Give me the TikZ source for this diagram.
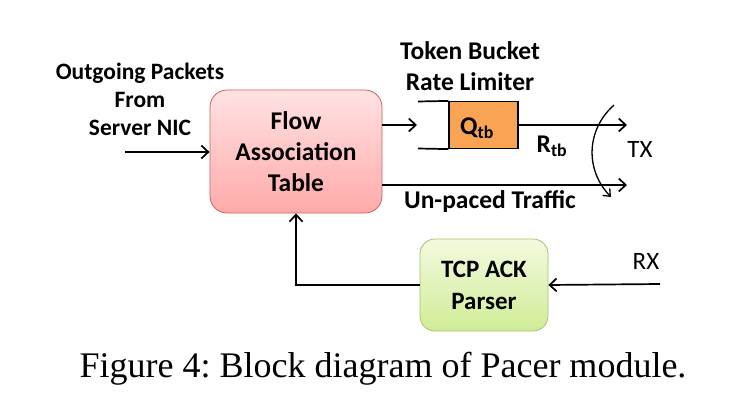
\documentclass[tikz,border=0pt]{standalone}
\usepackage{fontspec}
\setmainfont{Carlito}
\newfontfamily\capfont{Liberation Serif}
\usetikzlibrary{arrows.meta}
\frenchspacing

\definecolor{fatline}{HTML}{CD5F5C}
\definecolor{fattop}{HTML}{FFE2E2}
\definecolor{fatbot}{HTML}{FFAAAA}
\definecolor{tcpline}{HTML}{A3C467}
\definecolor{tcptop}{HTML}{F3FADF}
\definecolor{tcpbot}{HTML}{D0EC96}
\definecolor{qorange}{HTML}{F9A355}

\tikzset{
  lbl/.style={font=\fontsize{25.5}{31}\selectfont\bfseries, align=center, inner sep=0pt},
  lnk/.style={line width=1.7pt, -{Straight Barb[length=7pt,width=13pt,line width=1.7pt]}},
}

\begin{document}
\begin{tikzpicture}[x=1pt, y=-1pt]
    \useasboundingbox (0,0) rectangle (739,415);

    % blocks
    \node [lbl, draw=fatline, line width=0.8pt, rounded corners=17pt, top color=fattop, bottom color=fatbot,
           minimum width=172pt, minimum height=123pt] (fat) at (296,151.5) {Flow\\Association\\Table};
    \node [lbl, font=\fontsize{25}{32}\selectfont\bfseries, draw=tcpline, line width=0.8pt, rounded corners=15pt,
           top color=tcptop, bottom color=tcpbot, minimum width=128pt, minimum height=92pt] (tcp) at (484,285) {TCP ACK\\Parser};
    \node [lbl, draw, line width=1.2pt, fill=qorange, minimum width=69pt, minimum height=47pt] (qtb) at (483.5,125) {};
    \node [lbl] (qlbl) at (477,128) {Q\textsubscript{tb}};
    \draw [line width=1.7pt] (418,101.5) -- (qtb.north west);
    \draw [line width=1.7pt] (418,148.5) -- (qtb.south west);

    % free ends
    \coordinate (in) at (125,152);
    \coordinate (qin) at (417,125);
    \coordinate (txa) at (627,125);
    \coordinate (txb) at (627,185);
    \coordinate (rx) at (660,284);

    % connectors
    \draw [lnk] (in) -- (fat.west |- in);
    \draw [lnk] (fat.east |- qin) -- (qin);
    \draw [lnk] (qtb.east) -- (txa);
    \draw [lnk] (fat.east |- txb) -- (txb);
    \draw [lnk] (rx) -- (tcp.east);
    \draw [lnk] (tcp.west) -| (fat.south);
    \draw [line width=1.3pt, -{Straight Barb[length=6pt,width=10pt,line width=1.3pt]}]
        (614,105) .. controls (586,130) and (585,170) .. (611,197);

    % labels
    \node [lbl, font=\fontsize{23.5}{28}\selectfont\bfseries] (outlbl) at (140,99) {Outgoing Packets\\From\\Server NIC};
    \node [lbl] (tbrl) at (470,66) {Token Bucket\\Rate Limiter};
    \node [lbl] (rtb) at (552,146) {R\textsubscript{tb}};
    \node [lbl] (unp) at (490,202) {Un-paced Traffic};
    \node [lbl, font=\fontsize{25}{30}\selectfont] (txl) at (640,149) {TX};
    \node [lbl, font=\fontsize{25}{30}\selectfont] (rxl) at (646,261) {RX};

    % caption
    \node [anchor=base, inner sep=0pt, font=\capfont\fontsize{36}{40}\selectfont] (cap) at (383,377)
        {Figure 4: Block diagram of Pacer module.};
\end{tikzpicture}
\end{document}
